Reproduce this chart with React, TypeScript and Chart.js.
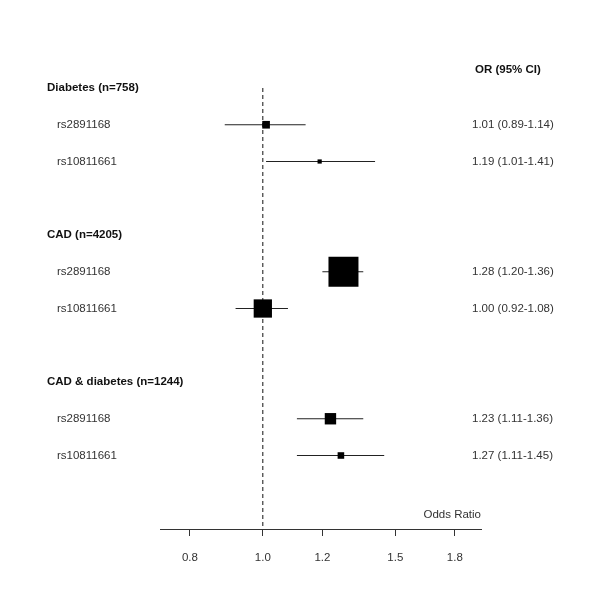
import React, { useEffect, useRef } from "react";
import { Chart, registerables } from "chart.js";

Chart.register(...registerables);

const GROUPS = ["Diabetes (n=758)", "CAD (n=4205)", "CAD & diabetes (n=1244)"];
const SNPS = ["rs2891168", "rs10811661"];
const ODDS = [1.01, 1.19, 1.28, 1.0, 1.23, 1.27];
const LOWER = [0.89, 1.01, 1.2, 0.92, 1.11, 1.11];
const UPPER = [1.14, 1.41, 1.36, 1.08, 1.36, 1.45];
const X_TICKS = [0.8, 1.0, 1.2, 1.5, 1.8];
const X_TITLE = "Odds Ratio";
const COL_TITLE = "OR (95% CI)";

const FONT = '"Liberation Sans", Arial, sans-serif';

export default function App() {
  const ref = useRef<HTMLCanvasElement | null>(null);

  useEffect(() => {
    if (!ref.current) return;
    const rows = ODDS.map((_, i) => 4 * Math.floor(i / 2) + 1 + (i % 2));
    // box size proportional to inverse variance (weight)
    const weights = ODDS.map((_, i) => {
      const se = (Math.log(UPPER[i]) - Math.log(LOWER[i])) / 3.92;
      return 1 / (se * se);
    });
    const maxW = Math.max(...weights);
    const sides = weights.map((w) => (30 * w) / maxW);

    const ciSets = ODDS.map((_, i) => ({
      type: "line" as const,
      data: [
        { x: LOWER[i], y: rows[i] },
        { x: UPPER[i], y: rows[i] },
      ],
      borderColor: "#222",
      borderWidth: 1,
      pointRadius: 0,
      showLine: true,
      order: 2,
    }));

    const textPlugin = {
      id: "forestText",
      afterDraw(chart: any) {
        const ctx = chart.ctx;
        const y = chart.scales.y;
        const area = chart.chartArea;
        ctx.save();
        ctx.textBaseline = "middle";
        ctx.fillStyle = "#111";
        ctx.font = `bold 11.5px ${FONT}`;
        ctx.textAlign = "left";
        ctx.fillText(COL_TITLE, 475, y.getPixelForValue(-0.5));
        GROUPS.forEach((g, gi) => {
          ctx.fillText(g, 47, y.getPixelForValue(4 * gi));
        });
        ctx.font = `11.5px ${FONT}`;
        ctx.fillStyle = "#333";
        ODDS.forEach((o, i) => {
          const py = y.getPixelForValue(rows[i]);
          ctx.fillText(SNPS[i % 2], 57, py);
          ctx.fillText(
            `${o.toFixed(2)} (${LOWER[i].toFixed(2)}-${UPPER[i].toFixed(2)})`,
            472,
            py
          );
        });
        ctx.textAlign = "right";
        ctx.fillText(X_TITLE, area.right, area.bottom - 14);
        ctx.restore();
      },
    };

    const chart = new Chart(ref.current, {
      type: "scatter",
      data: {
        datasets: [
          {
            data: ODDS.map((o, i) => ({ x: o, y: rows[i] })),
            pointStyle: "rect",
            pointRadius: sides.map((s) => s / Math.SQRT2),
            pointBorderWidth: 0,
            backgroundColor: "#000",
            borderColor: "#000",
            order: 0,
          } as any,
          {
            type: "line",
            data: [
              { x: 1, y: 0 },
              { x: 1, y: 12 },
            ],
            borderColor: "#111",
            borderWidth: 1,
            borderDash: [4, 3],
            pointRadius: 0,
            showLine: true,
            order: 1,
          } as any,
          ...(ciSets as any[]),
        ],
      },
      options: {
        responsive: false,
        animation: false,
        devicePixelRatio: 1,
        layout: { padding: { left: 160, right: 119, top: 88, bottom: 0 } },
        plugins: {
          legend: { display: false },
          tooltip: { enabled: false },
        },
        scales: {
          x: {
            type: "logarithmic",
            bounds: "data",
            min: 0.73,
            max: 1.95,
            position: "bottom",
            afterBuildTicks: (scale: any) => {
              scale.ticks = X_TICKS.map((v) => ({ value: v }));
            },
            afterFit: (scale: any) => {
              scale.height = 70;
            },
            grid: {
              drawOnChartArea: false,
              drawTicks: true,
              tickLength: 7,
              color: "#333",
            },
            border: { display: true, color: "#333", width: 1 },
            ticks: {
              padding: 15,
              color: "#333",
              font: { family: FONT, size: 11.5 },
              autoSkip: false,
              maxRotation: 0,
              callback: (v: any) => Number(v).toFixed(1),
            },
          },
          y: {
            type: "linear",
            display: false,
            min: 0,
            max: 12,
            reverse: true,
          },
        },
      },
      plugins: [textPlugin],
    } as any);
    return () => chart.destroy();
  }, []);

  return (
    <div
      style={{
        position: "fixed",
        left: 0,
        top: 0,
        width: 600,
        height: 599,
        background: "#fff",
      }}
    >
      <canvas ref={ref} width={600} height={599} style={{ display: "block" }} />
    </div>
  );
}
